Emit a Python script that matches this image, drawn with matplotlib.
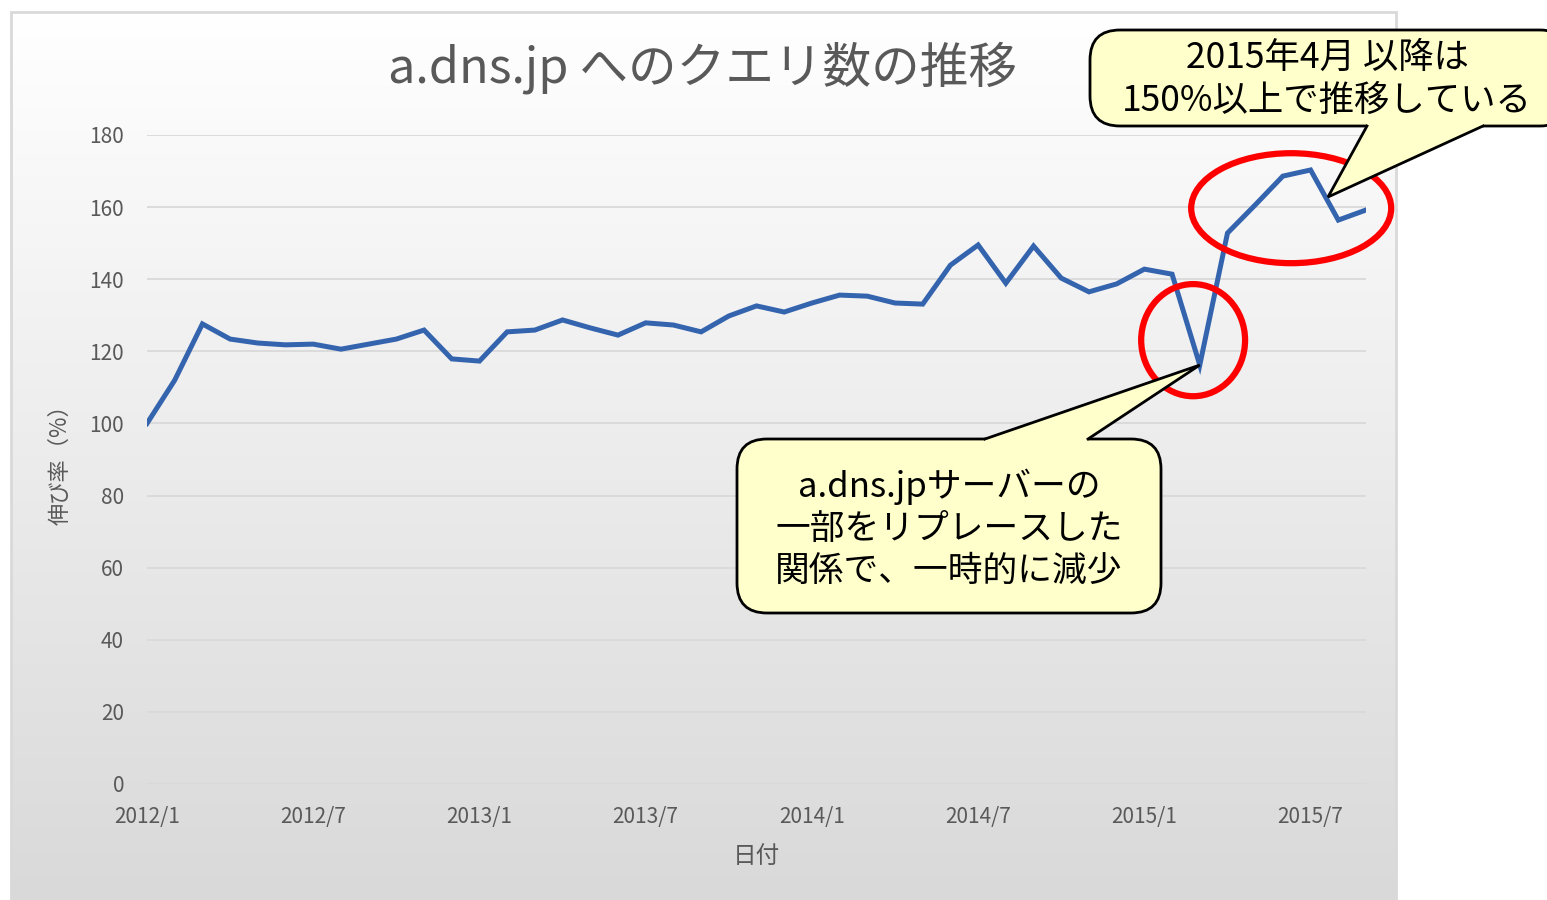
import matplotlib
matplotlib.use('Agg')
import matplotlib.pyplot as plt
import numpy as np
from matplotlib.patches import Ellipse, FancyBboxPatch, Polygon, Rectangle

plt.rcParams['font.family'] = ['Noto Sans CJK JP', 'DejaVu Sans']

# monthly growth rate, 2012/1 .. 2015/9
months = list(range(45))
rates = [100.0, 112.0, 127.6, 123.4, 122.3, 121.8, 122.0, 120.6, 122.0, 123.4,
         125.9, 117.9, 117.3, 125.4, 125.9, 128.7, 126.5, 124.5, 127.9, 127.3,
         125.4, 129.8, 132.6, 130.9, 133.4, 135.6, 135.3, 133.4, 133.1, 143.9,
         149.5, 138.9, 149.2, 140.3, 136.5, 138.7, 142.8, 141.4, 116.2, 152.8,
         160.6, 168.6, 170.3, 156.4, 159.2]
tick_pos = [0, 6, 12, 18, 24, 30, 36, 42]
tick_labels = ['2012/1', '2012/7', '2013/1', '2013/7', '2014/1', '2014/7', '2015/1', '2015/7']
y_ticks = [0, 20, 40, 60, 80, 100, 120, 140, 160, 180]

W, H = 1547, 900
fig = plt.figure(figsize=(W / 100, H / 100), dpi=100)

# chart area background: gradient white -> light gray
bg = fig.add_axes([11 / W, 0, 1385 / W, 888 / H])
grad = np.linspace(0, 1, 256).reshape(-1, 1)
bg.imshow(grad, aspect='auto', cmap=matplotlib.colors.LinearSegmentedColormap.from_list(
    'g', ['#ffffff', '#d9d9d9']), extent=[0, 1, 0, 1], origin='upper')
bg.set_xlim(0, 1)
bg.set_ylim(0, 1)
bg.axis('off')
bg.add_patch(Rectangle((0, 0), 1, 1, transform=bg.transAxes, fill=False,
                       edgecolor='#d9d9d9', lw=2, clip_on=False))

ax = fig.add_axes([147 / W, 1 - 784 / H, (1366 - 147) / W, (784 - 135) / H])
ax.set_facecolor('none')
ax.plot(months, rates, color='#3564ae', lw=3.6, zorder=3, solid_joinstyle='miter')
ax.set_xlim(0, 44)
ax.set_ylim(0, 180)
ax.set_yticks(y_ticks)
ax.set_xticks(tick_pos)
ax.set_xticklabels(tick_labels)
ax.tick_params(length=0, labelsize=15, labelcolor='#595959')
ax.tick_params(axis='y', pad=16.5)
ax.tick_params(axis='x', pad=16)
ax.grid(axis='y', color='#d9d9d9', lw=1.3)
for s in ax.spines.values():
    s.set_visible(False)
ax.set_ylabel('伸び率（%）', fontsize=16, color='#595959')
ax.yaxis.set_label_coords(-0.062, 0.5)
ax.set_xlabel('日付', fontsize=17, color='#595959', labelpad=12)

fig.text(703 / W, 1 - 68 / H, 'a.dns.jp へのクエリ数の推移', ha='center', va='center',
         fontsize=35, color='#595959')

# red ellipses highlighting the dip and the rise
ax.add_patch(Ellipse((37.76, 123.1), 3.75, 31.1, fill=False, edgecolor='#ff0000',
                     lw=4.5, zorder=4, clip_on=False))
ax.add_patch(Ellipse((41.3, 159.7), 7.22, 30.5, fill=False, edgecolor='#ff0000',
                     lw=4.5, zorder=4, clip_on=False))

# overlay in pixel coordinates for the callouts
ov = fig.add_axes([0, 0, 1, 1])
ov.set_xlim(0, W)
ov.set_ylim(H, 0)
ov.axis('off')


def to_px(x, y):
    px, py = ax.transData.transform((x, y))
    return px, H - py


def callout(x0, y0, x1, y1, base, tip, lines, tx, ty, size):
    ov.add_patch(FancyBboxPatch((x0, y0), x1 - x0, y1 - y0,
                                boxstyle='round,pad=0,rounding_size=30',
                                facecolor='#ffffcc', edgecolor='black', lw=2, zorder=5,
                                clip_on=False))
    (bx1, by), (bx2, _) = base
    inner = 3 if by == y0 else -3
    ov.add_patch(Polygon([(bx1, by + inner), (bx1, by), tip, (bx2, by), (bx2, by + inner)],
                         closed=True, facecolor='#ffffcc', edgecolor='none', zorder=6,
                         clip_on=False))
    ov.plot([bx1, tip[0], bx2], [by, tip[1], by], color='black', lw=2, zorder=7,
            clip_on=False, solid_joinstyle='miter')
    ov.text(tx, ty, lines, ha='center', va='center', fontsize=size, color='black',
            linespacing=1.25, zorder=8)


tip1 = to_px(38, rates[38])
callout(737, 439, 1161, 613, [(985, 439), (1088, 439)], tip1,
        'a.dns.jpサーバーの\n一部をリプレースした\n関係で、一時的に減少', 949, 529, 25)
callout(1090, 30, 1570, 126, [(1367, 126), (1483, 126)], (1328, 197),
        '2015年4月 以降は\n150%以上で推移している', 1327, 79, 25.5)

fig.savefig('out.png', dpi=100)
